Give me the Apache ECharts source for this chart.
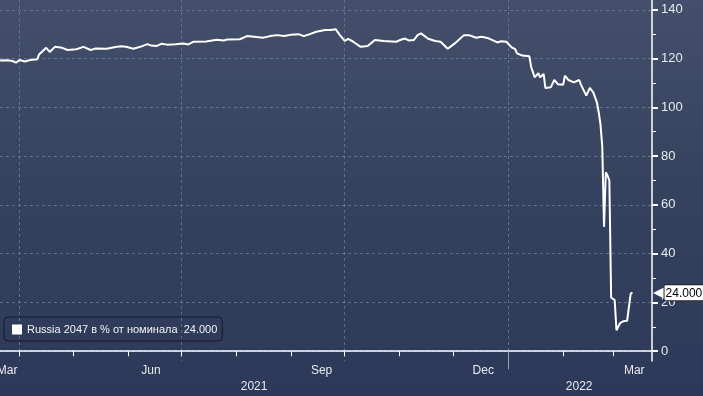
<!DOCTYPE html>
<html><head><meta charset="utf-8">
<script src="https://cdn.jsdelivr.net/npm/echarts@6/dist/echarts.min.js"></script>
<style>
html,body{margin:0;padding:0;width:703px;height:396px;overflow:hidden;background:#2d3a59}
#c{width:703px;height:396px;background:linear-gradient(180deg,#434f6b 0%,#36435f 45%,#2d3a59 91%,#2c3958 100%)}
</style>
</head><body><div id="c"></div><script>
const seriesName = 'Russia 2047 в % от номинала';
const lastValueLabel = '24.000';
const dates = ['2021-03-21','2021-03-25','2021-03-28','2021-03-30','2021-04-01','2021-04-04','2021-04-07','2021-04-11','2021-04-12','2021-04-16','2021-04-18','2021-04-21','2021-04-25','2021-04-28','2021-05-03','2021-05-07','2021-05-11','2021-05-14','2021-05-20','2021-05-25','2021-05-28','2021-05-31','2021-06-04','2021-06-08','2021-06-12','2021-06-14','2021-06-17','2021-06-20','2021-06-23','2021-06-28','2021-07-02','2021-07-05','2021-07-08','2021-07-15','2021-07-21','2021-07-25','2021-07-27','2021-08-03','2021-08-07','2021-08-11','2021-08-16','2021-08-20','2021-08-24','2021-08-28','2021-09-01','2021-09-05','2021-09-08','2021-09-11','2021-09-15','2021-09-20','2021-09-23','2021-09-26','2021-09-28','2021-10-01','2021-10-03','2021-10-06','2021-10-10','2021-10-14','2021-10-18','2021-10-23','2021-10-30','2021-11-02','2021-11-04','2021-11-06','2021-11-09','2021-11-11','2021-11-13','2021-11-17','2021-11-21','2021-11-24','2021-11-28','2021-12-02','2021-12-07','2021-12-10','2021-12-14','2021-12-17','2021-12-21','2021-12-26','2021-12-28','2021-12-31','2022-01-03','2022-01-05','2022-01-06','2022-01-09','2022-01-10','2022-01-13','2022-01-14','2022-01-16','2022-01-18','2022-01-19','2022-01-21','2022-01-22','2022-01-25','2022-01-27','2022-01-29','2022-02-01','2022-02-02','2022-02-04','2022-02-07','2022-02-10','2022-02-11','2022-02-14','2022-02-16','2022-02-18','2022-02-19','2022-02-20','2022-02-21','2022-02-22','2022-02-23','2022-02-24','2022-02-25','2022-02-26','2022-02-27','2022-02-28','2022-03-01','2022-03-02','2022-03-03','2022-03-04','2022-03-05','2022-03-06','2022-03-07','2022-03-08','2022-03-09','2022-03-10','2022-03-11','2022-03-12'];
const values = [119.2,119.3,119.0,118.3,119.4,118.8,119.4,119.7,121.7,124.4,122.7,124.8,124.4,123.5,123.8,124.8,123.5,124.1,124.0,124.7,125.0,124.8,124.0,124.8,125.9,125.3,125.1,126.1,125.7,125.9,126.2,125.8,126.9,127.0,127.7,127.4,127.8,127.9,129.2,128.9,128.5,129.2,129.6,129.2,129.8,130.0,129.2,129.9,131.0,131.7,131.7,132.0,129.9,127.2,128.1,126.8,124.8,125.1,127.6,127.2,126.9,127.8,128.2,127.4,127.6,129.6,130.3,128.1,127.2,126.9,124.0,126.2,129.5,129.6,128.5,128.9,128.3,126.6,127.1,126.9,124.6,123.9,122.1,121.2,121.6,120.9,116.5,112.3,114.0,112.3,113.7,107.9,108.2,111.2,109.5,109.3,113.0,111.2,110.2,111.2,109.3,104.8,108.0,106.0,104.0,102.0,98.0,93.0,84.0,51.0,73.4,72.0,70.0,22.0,21.6,21.0,8.6,8.6,11.5,12.0,12.3,12.3,12.5,12.7,23.6,24.0];
const xStart = '2021-03-21', xEnd = '2022-03-23';
const yMin = -4, yMax = 144;
const yLabelValues = [0,20,40,60,80,100,120,140];
const yMinorTickValues = [10,30,50,70,90,110,130];
const monthTickDates = ['2021-04-01','2021-05-01','2021-06-01','2021-07-01','2021-08-01','2021-09-01','2021-10-01','2021-11-01','2021-12-01','2022-01-01','2022-02-01','2022-03-01'];
const monthLabelDates = ['2021-03-25','2021-06-14','2021-09-18','2021-12-18','2022-03-13'];
const monthLabelTexts = ['Mar','Jun','Sep','Dec','Mar'];
const quarterGridDates = ['2021-04-01','2021-07-01','2021-10-01','2022-01-01'];
const yearLabelDates = ['2021-08-11','2022-02-10'];
const yearLabelTexts = ['2021','2022'];
const yearSeparatorDates = ['2022-01-01'];

function ts(s){const p=s.split('-').map(Number);return new Date(p[0],p[1]-1,p[2]).getTime();}
function nearestText(v, list, texts){let bi=-1,bd=Infinity;list.forEach((t,i)=>{const d=Math.abs(t-v);if(d<bd){bd=d;bi=i;}});return bd<86400000?texts[bi]:'';}
const monthLabelTs = monthLabelDates.map(ts);
const yearLabelTs = yearLabelDates.map(ts);
const FONT = '"Liberation Sans", Arial, sans-serif';
const TXT = '#e8eaee';
const GRID = 'rgba(125,150,180,0.55)';

const chart = echarts.init(document.getElementById('c'), null, {renderer:'canvas'});
const xBase = {type:'value', min: ts(xStart), max: ts(xEnd), position:'bottom', gridIndex:0, scale: true};
chart.setOption({
  backgroundColor: 'transparent',
  animation: false,
  textStyle: {fontFamily: FONT},
  grid: {left: 0, right: 51, top: 0, bottom: 35, containLabel: false, outerBoundsMode: 'none'},
  legend: {
    left: 4, top: 317, icon: 'rect', itemWidth: 10, itemHeight: 10, itemGap: 5,
    padding: [7, 5, 6, 8], borderColor: '#141a2a', borderWidth: 1, borderRadius: 4,
    textStyle: {color: '#f2f2f2', fontSize: 11, fontFamily: FONT},
    itemStyle: {color: '#ffffff'}, lineStyle: {width: 0},
    formatter: n => n + '  ' + lastValueLabel,
    data: [{name: seriesName, icon: 'rect'}]
  },
  xAxis: [
    Object.assign({}, xBase, {
      axisLine: {show: true, lineStyle: {color: '#ffffff', width: 1.5}},
      axisTick: {show: true, customValues: monthTickDates.map(ts), length: 5, lineStyle: {color: '#ffffff', width: 1}},
      axisLabel: {show: true, customValues: monthLabelTs, formatter: v => nearestText(v, monthLabelTs, monthLabelTexts), color: TXT, fontSize: 12, margin: 4, fontFamily: FONT},
      splitLine: {show: false}
    }),
    Object.assign({}, xBase, {
      offset: 17,
      axisLine: {show: false},
      axisTick: {show: true, customValues: yearSeparatorDates.map(ts), length: 18, lineStyle: {color: '#9aa3b5', width: 1}},
      axisLabel: {show: true, customValues: yearLabelTs, formatter: v => nearestText(v, yearLabelTs, yearLabelTexts), color: TXT, fontSize: 12, margin: 3, fontFamily: FONT},
      splitLine: {show: false}
    }),
    Object.assign({}, xBase, {
      axisLine: {show: false},
      axisTick: {show: false, customValues: quarterGridDates.map(ts)},
      axisLabel: {show: false},
      splitLine: {show: true, lineStyle: {color: GRID, type: [3, 3], width: 1}}
    })
  ],
  yAxis: [
    {
      type: 'value', min: yMin, max: yMax, position: 'right',
      axisLine: {show: true, lineStyle: {color: '#ffffff', width: 1.5}},
      axisTick: {show: true, customValues: yLabelValues, length: 6, lineStyle: {color: '#ffffff', width: 2}},
      axisLabel: {show: true, customValues: yLabelValues, color: TXT, fontSize: 13, margin: 9, fontFamily: FONT},
      splitLine: {show: true, lineStyle: {color: GRID, type: [3, 3], width: 1}}
    },
    {
      type: 'value', min: yMin, max: yMax, position: 'right',
      axisLine: {show: false},
      axisTick: {show: true, customValues: yMinorTickValues, length: 4, lineStyle: {color: '#ffffff', width: 1}},
      axisLabel: {show: false},
      splitLine: {show: false}
    }
  ],
  series: [{
    name: seriesName, type: 'line', xAxisIndex: 0, yAxisIndex: 0,
    clip: false,
    data: dates.map((d, i) => [ts(d), values[i]]),
    showSymbol: false, symbol: 'none',
    lineStyle: {color: '#ffffff', width: 2},
    itemStyle: {color: '#ffffff'},
    markLine: {
      silent: true, symbol: ['none', 'none'],
      lineStyle: {color: 'rgba(0,0,0,0)', width: 1, type: 'solid'},
      label: {
        show: true, position: 'end', distance: 1,
        formatter: '{a|◀}{b|' + lastValueLabel + '}',
        rich: {
          a: {color: '#ffffff', fontSize: 15, fontFamily: 'DejaVu Sans'},
          b: {color: '#000000', backgroundColor: '#ffffff', borderColor: '#222', borderWidth: 1, borderRadius: 1,
              fontSize: 12, fontFamily: FONT, padding: [2, 3, 1, 1]}
        }
      },
      data: [{yAxis: values[values.length - 1]}]
    }
  }]
});
</script></body></html>
